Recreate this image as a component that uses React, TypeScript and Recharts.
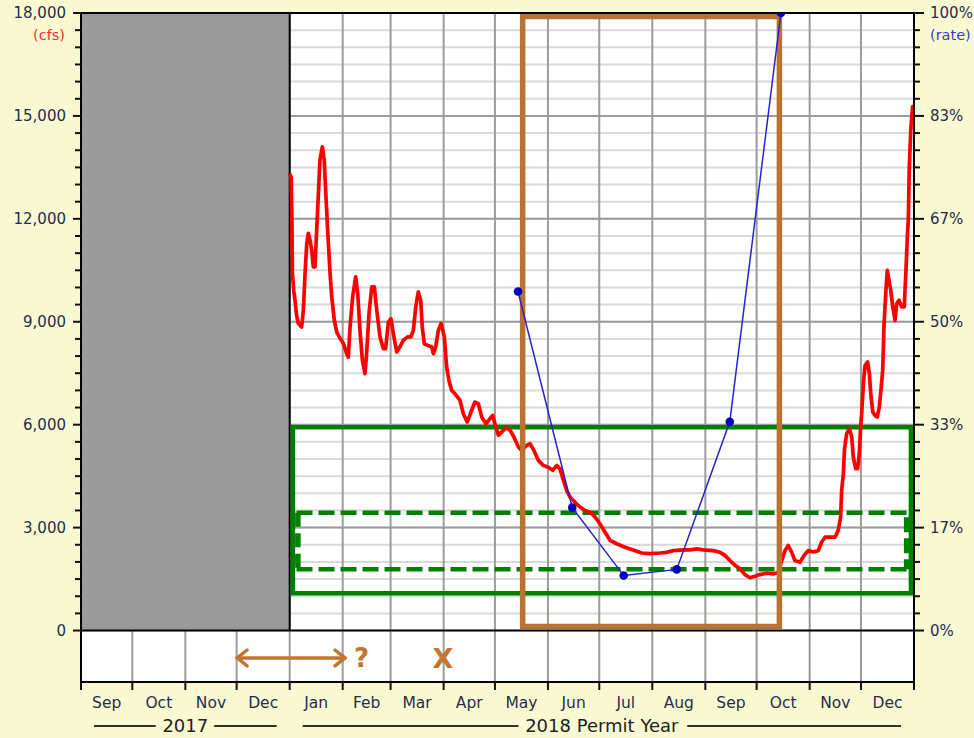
import React from 'react';
import {
  ComposedChart,
  Line,
  XAxis,
  YAxis,
  CartesianGrid,
  ReferenceArea,
  ReferenceLine,
  ReferenceDot,
} from 'recharts';

// ---------------- DATA ----------------
// x axis: days since 1 Sep 2017
const monthStarts = [0, 30, 61, 91, 122, 153, 181, 212, 242, 273, 303, 334, 365, 395, 426, 456, 487];
const monthLabels = ['Sep', 'Oct', 'Nov', 'Dec', 'Jan', 'Feb', 'Mar', 'Apr', 'May', 'Jun', 'Jul', 'Aug', 'Sep', 'Oct', 'Nov', 'Dec'];
const yearStarts = [0, 122];
const yearEnds = [122, 487];
const yearLabels = ['2017', '2018 Permit Year'];

const cfsTickLabels = ['0', '3,000', '6,000', '9,000', '12,000', '15,000', '18,000'];
const rateTickLabels = ['0%', '17%', '33%', '50%', '67%', '83%', '100%'];
const cfsMajorTicks = [3000, 6000, 9000, 12000, 15000, 18000];

// daily flow (cfs)
const flowDays = [
  122.0, 122.9, 123.3, 123.6, 124.4, 125.1, 126.0, 127.0, 129.0, 130.0, 131.0, 132.0, 132.9, 133.9, 134.9, 135.8,
  136.8, 137.8, 138.7, 139.7, 141.1, 142.2, 143.1, 144.2, 145.6, 146.6, 148.1, 149.5, 151.4, 153.4, 155.3, 156.3,
  157.3, 158.8, 160.6, 161.8, 163.1, 164.5, 166.0, 167.0, 168.4, 170.0, 171.5, 172.9, 174.8, 176.7, 178.1, 179.7,
  181.2, 182.6, 184.6, 186.5, 188.4, 191.0, 192.9, 194.3, 195.7, 197.2, 198.6, 199.5, 200.7, 202.7, 205.0, 206.0,
  207.4, 208.9, 210.5, 212.4, 213.8, 215.1, 216.7, 218.7, 221.6, 223.5, 225.8, 228.4, 230.3, 232.3, 234.3, 236.8,
  239.1, 240.7, 242.0, 244.0, 246.0, 248.5, 250.8, 253.1, 255.7, 257.6, 260.6, 262.5, 264.8, 267.4, 270.3, 273.2,
  275.8, 278.1, 280.0, 282.0, 284.0, 285.9, 288.8, 291.7, 294.7, 297.6, 300.5, 303.4, 306.3, 309.3, 313.2, 318.0,
  322.9, 327.8, 332.7, 338.5, 342.4, 346.3, 352.1, 356.1, 360.0, 363.8, 369.7, 373.6, 376.5, 379.4, 382.4, 385.3,
  388.2, 391.1, 394.0, 396.9, 400.9, 404.7, 407.7, 409.7, 411.6, 413.5, 415.5, 417.4, 420.4, 422.7, 425.2, 428.1,
  431.0, 433.0, 435.0, 440.8, 442.7, 444.1, 444.7, 445.7, 446.3, 447.6, 449.2, 450.6, 451.5, 452.9, 454.1, 455.0,
  455.8, 456.4, 457.4, 458.4, 459.9, 460.9, 461.7, 462.9, 464.2, 465.5, 466.7, 467.7, 468.7, 469.5, 470.6, 471.4,
  472.4, 473.4, 474.6, 475.9, 476.9, 478.2, 479.8, 481.3, 482.3, 483.1, 483.7, 484.2, 485.1, 486.2, 487.0,
];
const flowCfs = [
  13320, 13200, 11960, 10420, 9900, 9630, 9200, 8960, 8850, 9340, 10420, 11290, 11580, 11380, 11090, 10600,
  10600, 11670, 12640, 13710, 14100, 13710, 12750, 11670, 10420, 9720, 9040, 8700, 8520, 8370, 8070, 7970,
  8850, 9720, 10310, 9820, 8750, 7880, 7490, 8080, 9250, 10020, 10020, 9340, 8560, 8220, 8220, 8990,
  9090, 8660, 8120, 8270, 8460, 8560, 8560, 8750, 9430, 9870, 9630, 8850, 8360, 8310, 8270, 8070,
  8270, 8750, 8950, 8560, 7680, 7290, 7000, 6900, 6710, 6320, 6080, 6420, 6660, 6610, 6220, 6030,
  6180, 6270, 6030, 5690, 5790, 5910, 5840, 5640, 5350, 5250, 5400, 5450, 5250, 4960, 4810, 4760,
  4670, 4810, 4720, 4380, 4080, 3890, 3740, 3600, 3500, 3450, 3310, 3110, 2870, 2630, 2530, 2430,
  2350, 2260, 2240, 2260, 2280, 2330, 2350, 2350, 2380, 2350, 2330, 2280, 2190, 2040, 1900, 1800,
  1630, 1540, 1580, 1630, 1670, 1650, 1700, 2040, 2330, 2480, 2280, 2040, 1990, 2190, 2330, 2290,
  2330, 2580, 2720, 2720, 2920, 3310, 4080, 4570, 5250, 5740, 5880, 5640, 5060, 4720, 4720, 5160,
  5930, 6320, 7200, 7730, 7830, 7490, 6910, 6370, 6270, 6220, 6510, 7000, 7590, 8950, 9920, 10500,
  10210, 9920, 9430, 9040, 9530, 9630, 9430, 9430, 10500, 11470, 12010, 13420, 14590, 15270, 14880,
];

// monthly rate (%)
const rateDays = [255.5, 287.2, 317.3, 348.3, 379.3, 409.2];
const rateValues = [54.9, 19.9, 8.9, 9.9, 33.8, 100];

const flowData = flowDays.map((d, i) => ({ day: d, cfs: flowCfs[i] }));
const rateData = rateDays.map((d, i) => ({ day: d, rate: rateValues[i] }));

// ---------------- LAYOUT / STYLE ----------------
const CHART_W = 974;
const CHART_H = 738;
const LEFT_W = 81;
const RIGHT_W = 60;
const TOP_H = 13;
const BOTTOM_H = 56;
const DAY_MAX = 487;
const PX_PER_DAY = (CHART_W - LEFT_W - RIGHT_W) / DAY_MAX;

const FONT = '"DejaVu Sans", Verdana, sans-serif';
const TICK_COLOR = '#262d4a';
const BG = '#fafad2';
const GREEN = '#008000';
const BROWN = '#b9722f';
const ARROW = '#c47530';

const cfsAllTicks = Array.from({ length: 37 }, (_, i) => i * 500);
const rateAllTicks = Array.from({ length: 37 }, (_, i) => (i * 100) / 36);

const LeftTick = (props: any) => {
  const { x, y, payload } = props;
  const k = Math.round(payload.value / 500);
  const major = k % 6 === 0;
  return (
    <g>
      <line x1={x - (major ? 8 : 6)} x2={x} y1={y} y2={y} stroke="#111" strokeWidth={2} />
      {major && (
        <text x={x - 15} y={y} dy="0.36em" textAnchor="end" fontSize={15} fill={TICK_COLOR} fontFamily={FONT}>
          {cfsTickLabels[k / 6]}
        </text>
      )}
      {k === 36 && (
        <text x={x - 16} y={y + 22} dy="0.36em" textAnchor="end" fontSize={14.5} fill="#ff2a2a" fontFamily={FONT}>
          (cfs)
        </text>
      )}
    </g>
  );
};

const RightTick = (props: any) => {
  const { x, y, payload } = props;
  const k = Math.round((payload.value * 36) / 100);
  const major = k % 6 === 0;
  return (
    <g>
      <line x1={x} x2={x + (major ? 10 : 6)} y1={y} y2={y} stroke="#111" strokeWidth={2} />
      {major && (
        <text x={x + 16} y={y} dy="0.36em" textAnchor="start" fontSize={15} fill={TICK_COLOR} fontFamily={FONT}>
          {rateTickLabels[k / 6]}
        </text>
      )}
      {k === 36 && (
        <text x={x + 16} y={y + 22} dy="0.36em" textAnchor="start" fontSize={14.5} fill="#3a3acc" fontFamily={FONT}>
          (rate)
        </text>
      )}
    </g>
  );
};

const BottomTick = (props: any) => {
  const { x, y, payload } = props;
  const day = payload.value;
  const i = monthStarts.indexOf(day);
  const j = yearStarts.indexOf(day);
  const yearSpan = j >= 0 ? (yearEnds[j] - yearStarts[j]) * PX_PER_DAY : 0;
  return (
    <g>
      <line x1={x} x2={x} y1={y} y2={y + 8} stroke="#111" strokeWidth={2} />
      {i >= 0 && i < monthLabels.length && (
        <text
          x={x + ((monthStarts[i + 1] - day) / 2) * PX_PER_DAY}
          y={y + 20}
          dy="0.36em"
          textAnchor="middle"
          fontSize={15.5}
          fill={TICK_COLOR}
          fontFamily={FONT}
        >
          {monthLabels[i]}
        </text>
      )}
      {j >= 0 && (
        <g>
          <line x1={x + 13} x2={x + yearSpan - 13} y1={y + 44} y2={y + 44} stroke="#333" strokeWidth={2} />
          <text
            x={x + yearSpan / 2}
            y={y + 44}
            dy="0.36em"
            textAnchor="middle"
            fontSize={18}
            fill="#222"
            fontFamily={FONT}
            stroke={BG}
            strokeWidth={18}
            strokeLinejoin="round"
            paintOrder="stroke"
          >
            {yearLabels[j]}
          </text>
        </g>
      )}
    </g>
  );
};

const TopTick = (props: any) => {
  const { x, y } = props;
  return <line x1={x} x2={x} y1={y - 9} y2={y} stroke="#111" strokeWidth={2} />;
};

const textShape = (label: string, size: number) => (p: any) => (
  <text
    x={p.cx}
    y={p.cy}
    dy="0.36em"
    textAnchor="middle"
    fontSize={size}
    fontWeight="bold"
    fill={ARROW}
    fontFamily={FONT}
  >
    {label}
  </text>
);

export default function App() {
  return (
    <div
      style={{
        position: 'absolute',
        left: 0,
        top: 0,
        width: CHART_W,
        height: CHART_H,
        background: BG,
        fontFamily: FONT,
      }}
    >
      <ComposedChart width={CHART_W} height={CHART_H} margin={{ top: 0, right: 0, bottom: 0, left: 0 }}>
        <CartesianGrid horizontal vertical={false} stroke="#d9d9d9" strokeWidth={2} fill="#ffffff" fillOpacity={1} />
        <CartesianGrid horizontal={false} vertical stroke="#9c9c9c" strokeWidth={2} />
        <XAxis
          xAxisId={0}
          dataKey="day"
          type="number"
          domain={[0, DAY_MAX]}
          ticks={monthStarts}
          interval={0}
          height={BOTTOM_H}
          tickSize={0}
          tickMargin={0}
          tickLine={false}
          tick={<BottomTick />}
          axisLine={{ stroke: '#000', strokeWidth: 2 }}
          allowDataOverflow
        />
        <XAxis
          xAxisId="top"
          orientation="top"
          type="number"
          domain={[0, DAY_MAX]}
          ticks={monthStarts}
          interval={0}
          height={TOP_H}
          tickSize={0}
          tickMargin={0}
          tickLine={false}
          tick={<TopTick />}
          axisLine={{ stroke: '#000', strokeWidth: 2 }}
          allowDataOverflow
        />
        <YAxis
          yAxisId={0}
          type="number"
          domain={[-1500, 18000]}
          ticks={cfsAllTicks}
          interval={0}
          width={LEFT_W}
          tickSize={0}
          tickMargin={0}
          tickLine={false}
          tick={<LeftTick />}
          axisLine={{ stroke: '#000', strokeWidth: 2 }}
          allowDataOverflow
        />
        <YAxis
          yAxisId="rate"
          orientation="right"
          type="number"
          domain={[-100 / 12, 100]}
          ticks={rateAllTicks}
          interval={0}
          width={RIGHT_W}
          tickSize={0}
          tickMargin={0}
          tickLine={false}
          tick={<RightTick />}
          axisLine={{ stroke: '#000', strokeWidth: 2 }}
          allowDataOverflow
        />

        {cfsMajorTicks.map((v) => (
          <ReferenceLine key={'maj' + v} y={v} stroke="#9c9c9c" strokeWidth={2} zIndex={5} />
        ))}

        {/* pre-permit period */}
        <ReferenceArea x1={0} x2={122} y1={0} y2={18000} fill="#9a9a9a" fillOpacity={1} stroke="none" zIndex={10} />
        <ReferenceLine segment={[{ x: 122, y: 0 }, { x: 122, y: 18000 }]} stroke="#000" strokeWidth={2} zIndex={11} />
        <ReferenceLine y={0} stroke="#000" strokeWidth={2} zIndex={12} />

        {/* green target band */}
        <ReferenceArea
          x1={123.9}
          x2={485.2}
          y1={1085}
          y2={5928}
          fill="none"
          fillOpacity={0}
          stroke={GREEN}
          strokeWidth={4.5}
          zIndex={20}
        />
        <ReferenceLine
          segment={[{ x: 126, y: 3434 }, { x: 483, y: 3434 }]}
          stroke={GREEN}
          strokeWidth={4.5}
          strokeDasharray="16 6"
          zIndex={21}
        />
        <ReferenceLine
          segment={[{ x: 126, y: 1788 }, { x: 483, y: 1788 }]}
          stroke={GREEN}
          strokeWidth={4.5}
          strokeDasharray="16 6"
          zIndex={21}
        />
        <ReferenceLine
          segment={[{ x: 126.8, y: 3434 }, { x: 126.8, y: 1788 }]}
          stroke={GREEN}
          strokeWidth={5.5}
          strokeDasharray="14 6.5"
          zIndex={21}
        />
        <ReferenceLine
          segment={[{ x: 482.7, y: 3300 }, { x: 482.7, y: 1788 }]}
          stroke={GREEN}
          strokeWidth={5.5}
          strokeDasharray="15 6"
          zIndex={21}
        />

        <Line
          data={flowData}
          dataKey="cfs"
          type="linear"
          stroke="#ff0000"
          strokeWidth={3.7}
          strokeLinejoin="round"
          dot={false}
          activeDot={false}
          isAnimationActive={false}
          zIndex={30}
        />

        {/* brown season box */}
        <ReferenceArea
          x1={258.2}
          x2={408.3}
          y1={117}
          y2={17898}
          fill="none"
          fillOpacity={0}
          stroke={BROWN}
          strokeWidth={5.5}
          zIndex={40}
        />

        <Line
          yAxisId="rate"
          data={rateData}
          dataKey="rate"
          type="linear"
          stroke="#2424cc"
          strokeWidth={1.5}
          dot={{ r: 4.3, fill: '#0000bb', stroke: '#0000bb', strokeWidth: 0 }}
          activeDot={false}
          isAnimationActive={false}
          zIndex={50}
        />

        {/* annotations in the lower strip */}
        <ReferenceLine
          segment={[{ x: 91.3, y: -800 }, { x: 154.3, y: -800 }]}
          stroke={ARROW}
          strokeWidth={3.5}
          strokeLinecap="round"
          zIndex={60}
        />
        <ReferenceLine segment={[{ x: 91.3, y: -800 }, { x: 97.1, y: -567 }]} stroke={ARROW} strokeWidth={3.5} strokeLinecap="round" zIndex={60} />
        <ReferenceLine segment={[{ x: 91.3, y: -800 }, { x: 97.1, y: -1033 }]} stroke={ARROW} strokeWidth={3.5} strokeLinecap="round" zIndex={60} />
        <ReferenceLine segment={[{ x: 154.3, y: -800 }, { x: 148.5, y: -567 }]} stroke={ARROW} strokeWidth={3.5} strokeLinecap="round" zIndex={60} />
        <ReferenceLine segment={[{ x: 154.3, y: -800 }, { x: 148.5, y: -1033 }]} stroke={ARROW} strokeWidth={3.5} strokeLinecap="round" zIndex={60} />
        <ReferenceDot x={164} y={-800} r={0} shape={textShape('?', 26)} zIndex={60} />
        <ReferenceDot x={211.6} y={-800} r={0} shape={textShape('X', 27)} zIndex={60} />
      </ComposedChart>
    </div>
  );
}
